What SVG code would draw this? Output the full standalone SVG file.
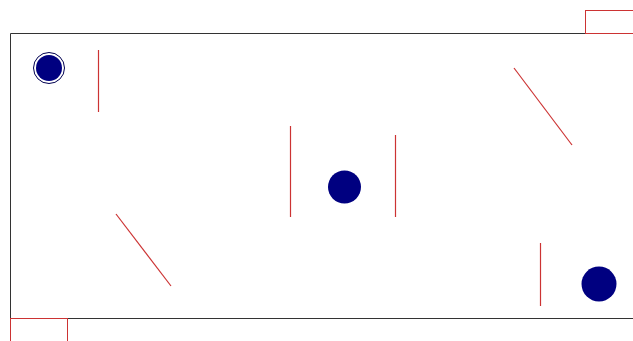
<svg xmlns="http://www.w3.org/2000/svg" width="633" height="341" viewBox="0 0 633 341">
<style>
.wall{stroke:#333;stroke-width:1;fill:none}
.seg{stroke:#cc3333;stroke-width:1.2;fill:none}
.box{stroke:#cc3333;stroke-width:1;fill:none}
.node{fill:#000080}
</style>
<rect width="633" height="341" fill="#fff"/>
<g id="room">
<path class="wall" d="M585.5,33.5 H10.5 V318.5 H633"/>
</g>
<g id="box-top"><rect class="box" x="585.5" y="10.5" width="60" height="23"/></g>
<g id="box-bottom"><rect class="box" x="10.5" y="318.5" width="57" height="30"/></g>
<g id="node-1">
<circle cx="49" cy="68" r="15.5" fill="#fff" stroke="#000050" stroke-width="1"/>
<circle class="node" cx="49" cy="68" r="13"/>
</g>
<g id="node-2"><circle class="node" cx="344.5" cy="187" r="16.5"/></g>
<g id="node-3"><circle class="node" cx="599" cy="284" r="17.5"/></g>
<g id="connectors">
<line class="seg" x1="98.5" y1="50" x2="98.5" y2="112"/>
<line class="seg" x1="116" y1="214" x2="171" y2="286"/>
<line class="seg" x1="290.5" y1="126" x2="290.5" y2="217"/>
<line class="seg" x1="395.5" y1="135" x2="395.5" y2="217"/>
<line class="seg" x1="514" y1="68" x2="572" y2="145"/>
<line class="seg" x1="540.5" y1="243" x2="540.5" y2="306"/>
</g>
</svg>
